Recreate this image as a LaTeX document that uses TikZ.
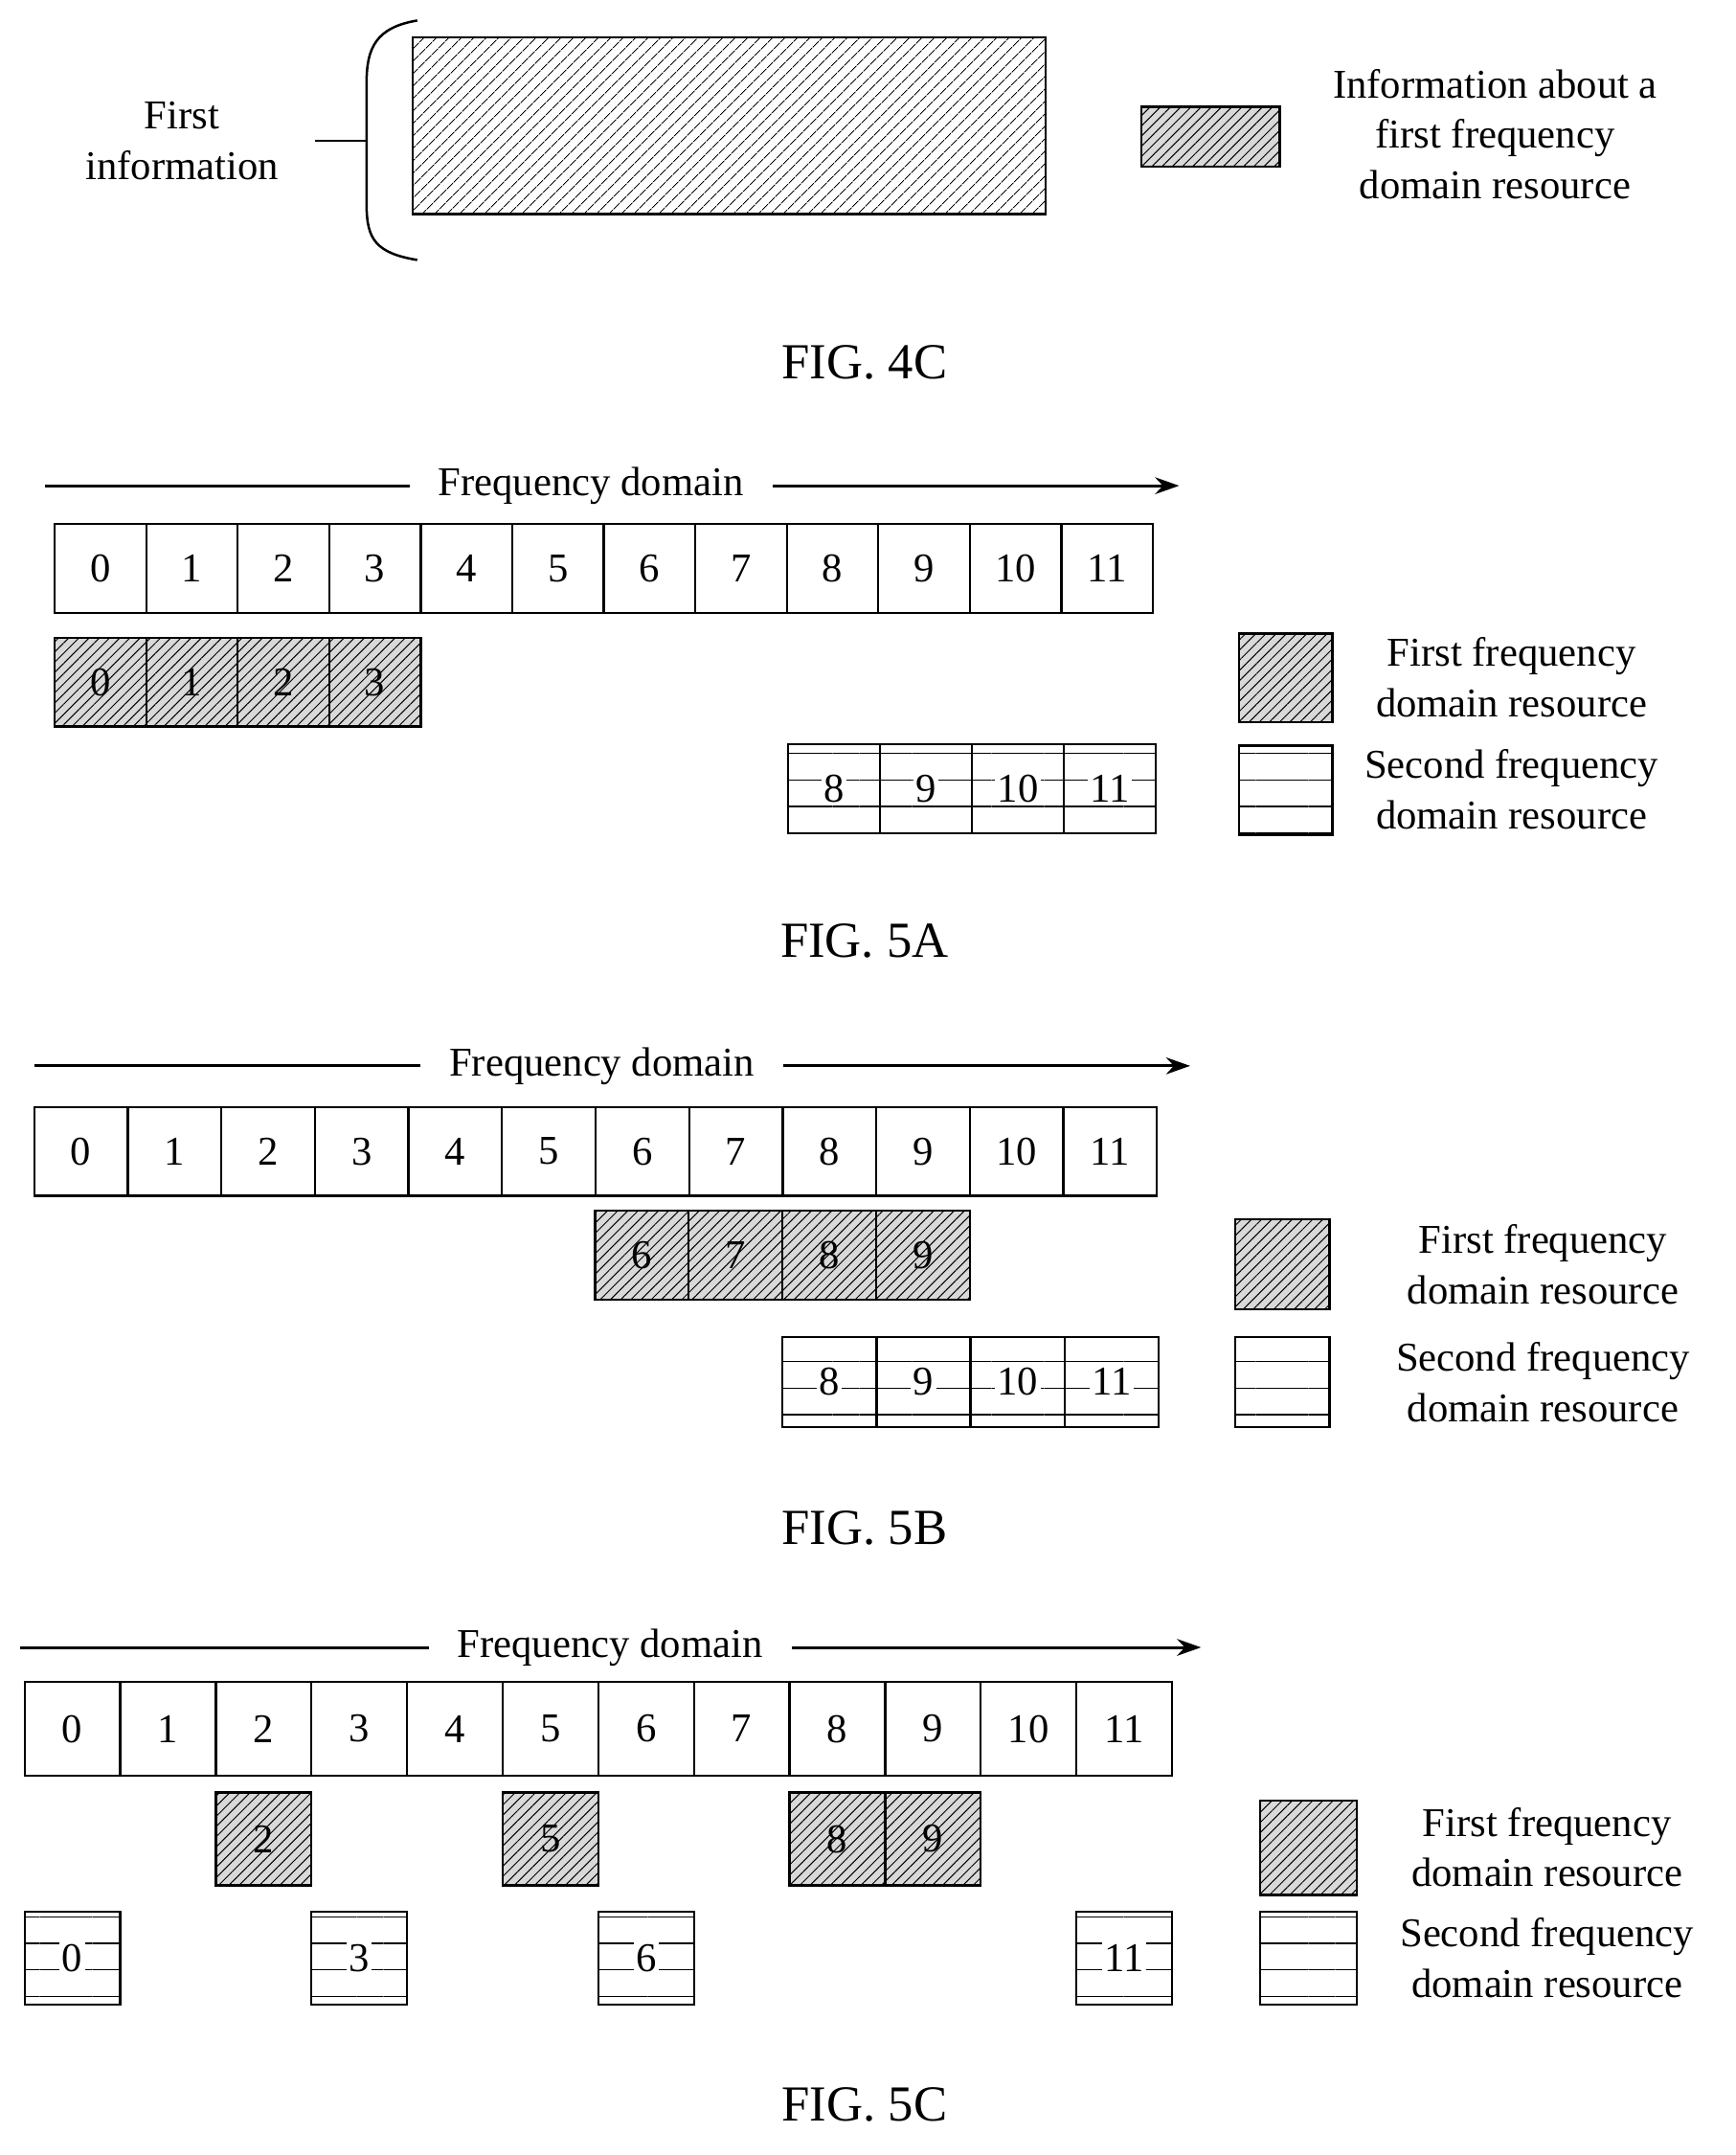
\documentclass[tikz,border=0pt]{standalone}
\usepackage{fontspec}
\setmainfont{Liberation Serif}
\usetikzlibrary{positioning, arrows.meta, calc, patterns.meta}

\begin{document}
\begin{tikzpicture}[
    x=0.02cm, y=-0.02cm,
    txt/.style={font=\fontsize{17}{21}\selectfont, align=center, inner sep=1pt},
    figlbl/.style={font=\fontsize{21}{25}\selectfont},
    cell/.style={draw=black, line width=0.9pt, minimum height=1.3cm,
        inner sep=0pt, outer sep=0pt, font=\fontsize{17}{21}\selectfont},
    first/.style={cell, preaction={fill=black!15},
        pattern={Lines[angle=45, distance=3pt, line width=0.4pt]}},
    second/.style={cell, fill=white,
        postaction={pattern={Lines[angle=0, distance=11pt, line width=0.6pt]}}},
    num/.style={fill=white, inner sep=1pt, font=\fontsize{17}{21}\selectfont},
    axis/.style={-{Stealth[length=10pt, width=7pt]}, line width=1.2pt}
]
\useasboundingbox (0,0) rectangle (1269,1575);

% FIG. 4C
\node[draw, line width=0.9pt, minimum width=9.26cm, minimum height=2.58cm,
    preaction={fill=white}, pattern={Lines[angle=45, distance=4pt, line width=0.4pt]}]
    (info) at (533,92) {};
\node[txt] (firstinfo) at (133,103) {First\\information};
\coordinate (brace) at (268,103);
\draw[line width=1pt] (305,15) .. controls (275,20) and (268,35) .. (268,60)
    -- (268,150) .. controls (268,175) and (275,185) .. (305,190);
\draw[line width=1pt] (230,103) -- (brace);
\node[draw, line width=0.9pt, minimum width=2.02cm, minimum height=0.88cm,
    preaction={fill=black!15}, pattern={Lines[angle=45, distance=3pt, line width=0.4pt]}]
    (leg4) at (885,100) {};
\node[txt] (leg4t) at (1093,98) {Information about a\\first frequency\\domain resource};
\node[figlbl] at (632,265) {FIG. 4C};

% FIG. 5A
\coordinate (a0) at (33,355);
\coordinate (a1) at (862,355);
\draw[axis] (a0) -- (a1);
\node[txt, fill=white, inner xsep=12pt] at (432,355) {Frequency domain};
\foreach \i in {0,...,11}{
  \node[cell, minimum width=1.338cm, minimum height=1.3cm] (ra\i) at ({40+66.9*(\i+0.5)},415.5) {\i};
}
\foreach \i in {0,...,3}{
  \node[first, minimum width=1.338cm] (fa\i) at ({40+66.9*(\i+0.5)},498.5) {};
  \node[num, fill=none] at (fa\i) {\i};
}
\foreach \i in {8,...,11}{
  \node[second, minimum width=1.345cm] (sa\i) at ({576+67.25*(\i-8+0.5)},576.5) {};
  \node[num] at (sa\i) {\i};
}
\node[first, minimum width=1.36cm] (lfa) at (940,495.5) {};
\node[second, minimum width=1.36cm] (lsa) at (940,577.5) {};
\node[txt] at (1105,495) {First frequency\\domain resource};
\node[txt] at (1105,577) {Second frequency\\domain resource};
\node[figlbl] at (632,688) {FIG. 5A};

% FIG. 5B
\coordinate (b0) at (25,779);
\coordinate (b1) at (870,779);
\draw[axis] (b0) -- (b1);
\node[txt, fill=white, inner xsep=12pt] at (440,779) {Frequency domain};
\foreach \i in {0,...,11}{
  \node[cell, minimum width=1.368cm] (rb\i) at ({25+68.4*(\i+0.5)},841.5) {\i};
}
\foreach \i in {6,...,9}{
  \node[first, minimum width=1.37cm] (fb\i) at ({435+68.5*(\i-6+0.5)},917.5) {};
  \node[num, fill=none] at (fb\i) {\i};
}
\foreach \i in {8,...,11}{
  \node[second, minimum width=1.375cm, minimum height=1.32cm] (sb\i) at ({572+68.75*(\i-8+0.5)},1010) {};
  \node[num] at (sb\i) {\i};
}
\node[first, minimum width=1.38cm, minimum height=1.32cm] (lfb) at (937.5,924) {};
\node[second, minimum width=1.38cm, minimum height=1.32cm] (lsb) at (937.5,1010) {};
\node[txt] at (1128,924) {First frequency\\domain resource};
\node[txt] at (1128,1010) {Second frequency\\domain resource};
\node[figlbl] at (632,1117) {FIG. 5B};

% FIG. 5C
\coordinate (c0) at (15,1204);
\coordinate (c1) at (878,1204);
\draw[axis] (c0) -- (c1);
\node[txt, fill=white, inner xsep=12pt] at (446,1204) {Frequency domain};
\foreach \i in {0,...,11}{
  \node[cell, minimum width=1.398cm, minimum height=1.38cm] (rc\i) at ({18+69.9*(\i+0.5)},1263.5) {\i};
}
\foreach \i in {2,5,8,9}{
  \node[first, minimum width=1.398cm, minimum height=1.36cm] (fc\i) at ({18+69.9*(\i+0.5)},1344) {};
  \node[num, fill=none] at (fc\i) {\i};
}
\foreach \i in {0,3,6,11}{
  \node[second, minimum width=1.398cm, minimum height=1.36cm] (sc\i) at ({18+69.9*(\i+0.5)},1431) {};
  \node[num] at (sc\i) {\i};
}
\node[first, minimum width=1.42cm, minimum height=1.38cm] (lfc) at (956.5,1350.5) {};
\node[second, minimum width=1.42cm, minimum height=1.36cm] (lsc) at (956.5,1431) {};
\node[txt] at (1131,1350) {First frequency\\domain resource};
\node[txt] at (1131,1431) {Second frequency\\domain resource};
\node[figlbl] at (632,1538) {FIG. 5C};
\end{tikzpicture}
\end{document}
